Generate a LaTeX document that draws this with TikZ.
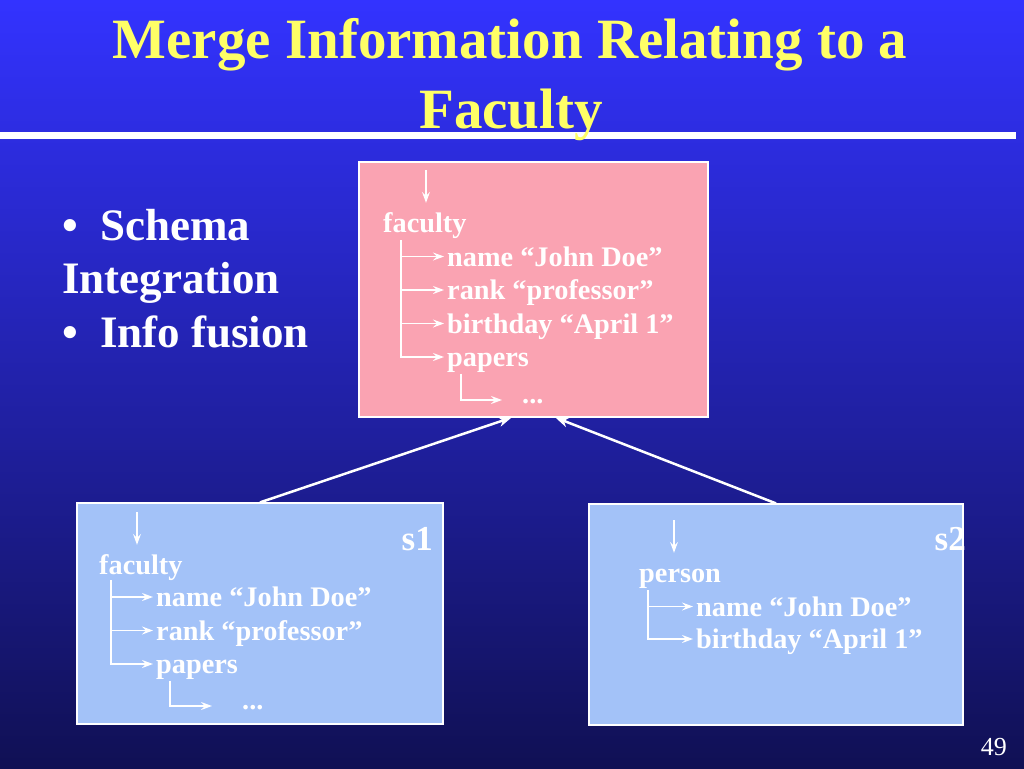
\documentclass[tikz,border=0pt]{standalone}
\usepackage{fontspec}
\setmainfont{Liberation Serif}
\usetikzlibrary{arrows.meta}
\definecolor{slidetop}{RGB}{51,51,255}
\definecolor{slidebot}{RGB}{16,16,84}
\definecolor{titleyellow}{RGB}{255,255,102}
\definecolor{mergepink}{RGB}{250,163,178}
\definecolor{srcblue}{RGB}{163,194,248}
\begin{document}
\begin{tikzpicture}[x=1pt, y=-1pt, >={Stealth[length=11pt,width=8pt,inset=4pt]},
    every node/.style={text=white},
    leaf/.style={anchor=base west, inner sep=0pt, text height=26pt, text depth=7pt, font=\fontsize{28.3}{32}\selectfont\bfseries},
    dots/.style={anchor=base west, inner sep=0pt, text height=6pt, text depth=0pt, font=\fontsize{28.3}{32}\selectfont\bfseries},
    branch/.style={->, draw=white, line width=1.2pt, shorten >=3pt},
    link/.style={-{Stealth[length=13pt,width=10pt,inset=4pt]}, draw=white, line width=2.5pt},
    schemabox/.style={draw=white, line width=1.2pt, inner sep=0pt}]
    \useasboundingbox (0,0) rectangle (1024,768);
    \shade[top color=slidetop, bottom color=slidebot] (0,0) rectangle (1024,768);
    % title
    \fill[white] (0,132) rectangle (1016,139);
    \node[anchor=base, text=titleyellow, font=\fontsize{57}{66}\selectfont\bfseries] (title) at (510,59) {Merge Information Relating to a};
    \node[anchor=base, text=titleyellow, font=\fontsize{57}{66}\selectfont\bfseries] (titleb) at (511,128) {Faculty};
    % bullets
    \node[anchor=base west, inner sep=0pt, font=\fontsize{45}{53}\selectfont\bfseries] (schema) at (62,240) {\makebox[38pt][l]{•}Schema};
    \node[anchor=base west, inner sep=0pt, font=\fontsize{45}{53}\selectfont\bfseries] (integ) at (62,293) {Integration};
    \node[anchor=base west, inner sep=0pt, font=\fontsize{45}{53}\selectfont\bfseries] (fusion) at (62,347) {\makebox[38pt][l]{•}Info fusion};
    % boxes
    \node[schemabox, fill=mergepink, minimum width=349pt, minimum height=255pt] (merged) at (533.5,289.5) {};
    \node[schemabox, fill=srcblue, minimum width=366pt, minimum height=221pt] (s1) at (260,613.5) {};
    \node[schemabox, fill=srcblue, minimum width=374pt, minimum height=221pt] (s2) at (776,614.5) {};
    \draw[link] (s1.north) -- ([xshift=-22pt]merged.south);
    \draw[link] (s2.north) -- ([xshift=22pt]merged.south);
    % merged tree
    \coordinate (mtop) at (426,170);
    \node[leaf] (mfac) at (383,232) {faculty};
    \node[leaf] (mname) at (447,266) {name “John Doe”};
    \node[leaf] (mrank) at (447,299.5) {rank “professor”};
    \node[leaf] (mbday) at (447,333) {birthday “April 1”};
    \node[leaf] (mpap) at (447,366.5) {papers};
    \node[dots] (mdots) at (522,403) {...};
    \draw[->, white, line width=1.2pt, shorten >=3pt] (mtop) -- (mtop |- mfac.north);
    \coordinate (mtrunk) at (401,240);
    \draw[branch] (mtrunk) |- (mname.west);
    \draw[branch] (mtrunk) |- (mrank.west);
    \draw[branch] (mtrunk) |- (mbday.west);
    \draw[branch] (mtrunk) |- (mpap.west);
    \draw[branch, shorten >=20pt] ([xshift=14pt]mpap.south west) |- (mdots.west);
    % s1 tree
    \node[anchor=base east, inner sep=0pt, font=\fontsize{35}{40}\selectfont\bfseries] (s1lab) at (433,550) {s1};
    \coordinate (atop) at (137,512);
    \node[leaf] (afac) at (99,574) {faculty};
    \node[leaf] (aname) at (156,606.5) {name “John Doe”};
    \node[leaf] (arank) at (156,640) {rank “professor”};
    \node[leaf] (apap) at (156,673.5) {papers};
    \node[dots] (adots) at (242,709) {...};
    \draw[->, white, line width=1.2pt, shorten >=3pt] (atop) -- (atop |- afac.north);
    \coordinate (atrunk) at (111,580);
    \draw[branch] (atrunk) |- (aname.west);
    \draw[branch] (atrunk) |- (arank.west);
    \draw[branch] (atrunk) |- (apap.west);
    \draw[branch, shorten >=30pt] ([xshift=14pt]apap.south west) |- (adots.west);
    % s2 tree
    \node[anchor=base east, inner sep=0pt, font=\fontsize{35}{40}\selectfont\bfseries] (s2lab) at (966,550) {s2};
    \coordinate (btop) at (674,520);
    \node[leaf] (bper) at (639,582) {person};
    \node[leaf] (bname) at (696,616) {name “John Doe”};
    \node[leaf] (bbday) at (696,648.5) {birthday “April 1”};
    \draw[->, white, line width=1.2pt, shorten >=3pt] (btop) -- (btop |- bper.north);
    \coordinate (btrunk) at (648,590);
    \draw[branch] (btrunk) |- (bname.west);
    \draw[branch] (btrunk) |- (bbday.west);
    % page number
    \node[anchor=base east, inner sep=0pt, font=\fontsize{26}{30}\selectfont] (pageno) at (1007,755) {49};
\end{tikzpicture}
\end{document}
